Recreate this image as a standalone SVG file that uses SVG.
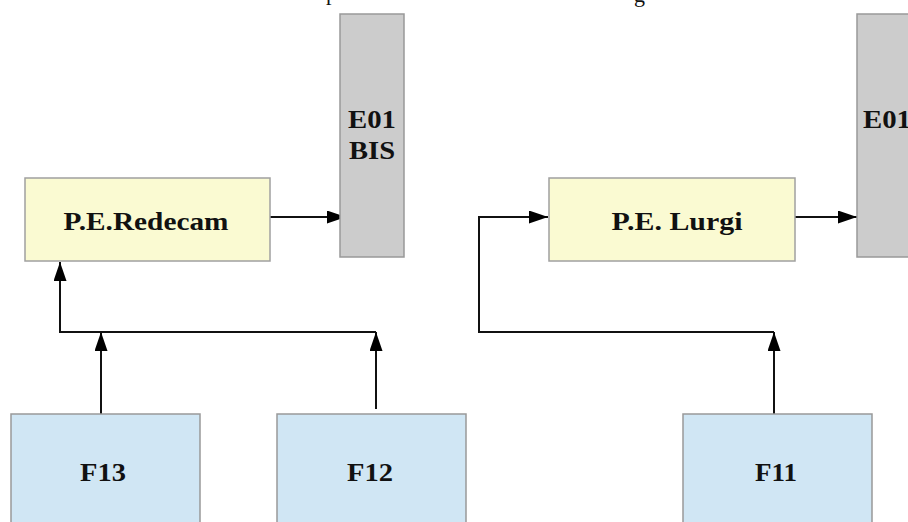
<svg xmlns="http://www.w3.org/2000/svg" width="908" height="522" viewBox="0 0 908 522">
<style>
.pe{fill:#fafad2;stroke:#a0a0a0;stroke-width:1.5}
.eb{fill:#cccccc;stroke:#999999;stroke-width:1.5}
.f{fill:#d0e6f4;stroke:#999999;stroke-width:1.5}
.t{font-family:"Liberation Serif","Times New Roman",serif;font-weight:bold;font-size:26px;fill:#111;text-anchor:middle}
.c{fill:none;stroke:#111;stroke-width:2}
.cap{font-family:"Liberation Serif","Times New Roman",serif;font-size:22px;fill:#111}
</style>
<defs>
<marker id="ah" markerWidth="19" markerHeight="13" refX="19" refY="6.5" orient="auto" markerUnits="userSpaceOnUse">
<path d="M0,0 L19,6.5 L0,13 Z" fill="#000"/>
</marker>
</defs>
<rect width="908" height="522" fill="#fff"/>
<text class="cap" x="326" y="0">p</text>
<text class="cap" x="634" y="2">g</text>
<g id="connectors">
<path class="c" d="M270,217 H346" marker-end="url(#ah)"/>
<path class="c" d="M795,217 H857" marker-end="url(#ah)"/>
<path class="c" d="M101,414 V332" marker-end="url(#ah)"/>
<path class="c" d="M376,409 V332" marker-end="url(#ah)"/>
<path class="c" d="M376,332 H60 V262" marker-end="url(#ah)"/>
<path class="c" d="M774,414 V332" marker-end="url(#ah)"/>
<path class="c" d="M774,332 H479 V217 H548" marker-end="url(#ah)"/>
</g>
<g id="e01bis">
<rect class="eb" x="340" y="14" width="64" height="243"/>
<text class="t" x="372" y="128" textLength="48" lengthAdjust="spacingAndGlyphs">E01</text>
<text class="t" x="372" y="159" textLength="46" lengthAdjust="spacingAndGlyphs">BIS</text>
</g>
<g id="e01">
<rect class="eb" x="857" y="14" width="64" height="243"/>
<text class="t" x="887" y="128" textLength="48" lengthAdjust="spacingAndGlyphs">E01</text>
</g>
<g id="redecam">
<rect class="pe" x="25" y="178" width="245" height="83"/>
<text class="t" x="146" y="230" textLength="165" lengthAdjust="spacingAndGlyphs">P.E.Redecam</text>
</g>
<g id="lurgi">
<rect class="pe" x="549" y="178" width="246" height="83"/>
<text class="t" x="677" y="230" textLength="131" lengthAdjust="spacingAndGlyphs">P.E. Lurgi</text>
</g>
<g id="f13">
<rect class="f" x="11" y="414" width="189" height="120"/>
<text class="t" x="103" y="481" textLength="46" lengthAdjust="spacingAndGlyphs">F13</text>
</g>
<g id="f12">
<rect class="f" x="277" y="414" width="189" height="120"/>
<text class="t" x="370" y="481" textLength="46" lengthAdjust="spacingAndGlyphs">F12</text>
</g>
<g id="f11">
<rect class="f" x="683" y="414" width="189" height="120"/>
<text class="t" x="776" y="481" textLength="42" lengthAdjust="spacingAndGlyphs">F11</text>
</g>
</svg>
